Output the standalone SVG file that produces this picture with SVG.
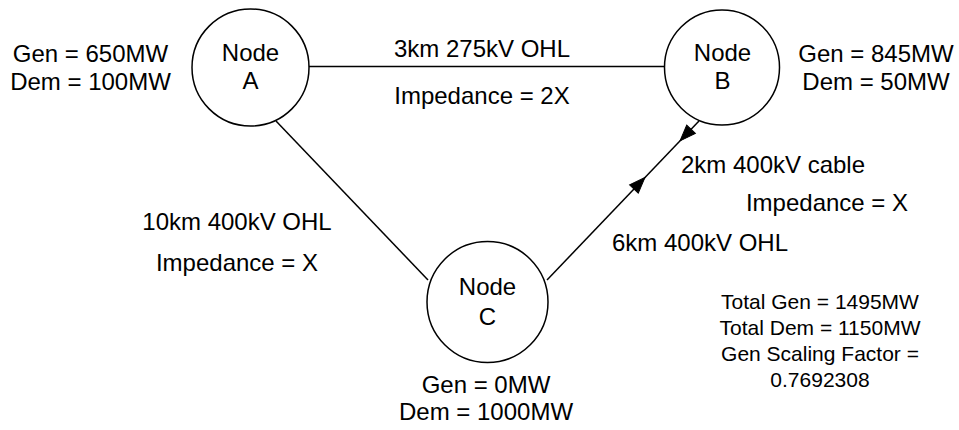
<svg xmlns="http://www.w3.org/2000/svg" width="959" height="430" viewBox="0 0 959 430">
<style>
text{font-family:"Liberation Sans",Arial,Helvetica,sans-serif;font-size:24px;fill:#000;text-anchor:middle}
.small{font-size:21px}
.node{fill:#fff;stroke:#000;stroke-width:1.5}
.edge{stroke:#000;stroke-width:1.5;fill:none}
.ah{fill:#000;stroke:#000;stroke-width:1}
</style>
<defs>
<path id="arrow" d="M0,0 L-16,-6 L-16,6 Z"/>
</defs>
<rect width="959" height="430" fill="#fff"/>
<g id="connectors">
<line class="edge" x1="309" y1="66.5" x2="664" y2="66.5"/>
<line class="edge" x1="276" y1="121" x2="428" y2="280"/>
<line class="edge" x1="547" y1="280" x2="699" y2="121"/>
<use href="#arrow" class="ah" transform="translate(645,177.4) rotate(-46.3)"/>
<use href="#arrow" class="ah" transform="translate(680,140.9) rotate(133.7)"/>
</g>
<g id="labels">
<text x="482" y="57">3km 275kV OHL</text>
<text x="482" y="104">Impedance = 2X</text>
<text x="237" y="230">10km 400kV OHL</text>
<text x="237" y="271">Impedance = X</text>
<text x="773" y="173">2km 400kV cable</text>
<text x="827" y="211">Impedance = X</text>
<text x="700" y="251">6km 400kV OHL</text>
</g>
<g id="nodeA">
<circle class="node" cx="250.5" cy="67.5" r="58.5"/>
<text x="250.5" y="61">Node</text>
<text x="250.5" y="89">A</text>
<text x="90.5" y="62">Gen = 650MW</text>
<text x="90.5" y="90">Dem = 100MW</text>
</g>
<g id="nodeB">
<circle class="node" cx="722" cy="67.5" r="57.5"/>
<text x="722.5" y="61">Node</text>
<text x="722.5" y="89">B</text>
<text x="876" y="62">Gen = 845MW</text>
<text x="876" y="90">Dem = 50MW</text>
</g>
<g id="nodeC">
<circle class="node" cx="487.5" cy="302" r="60.5"/>
<text x="487.5" y="295">Node</text>
<text x="487.5" y="325">C</text>
<text x="486" y="393">Gen = 0MW</text>
<text x="486" y="420">Dem = 1000MW</text>
</g>
<g id="totals">
<text class="small" x="820" y="309">Total Gen = 1495MW</text>
<text class="small" x="820" y="335">Total Dem = 1150MW</text>
<text class="small" x="820" y="361">Gen Scaling Factor =</text>
<text class="small" x="820" y="387">0.7692308</text>
</g>
</svg>
